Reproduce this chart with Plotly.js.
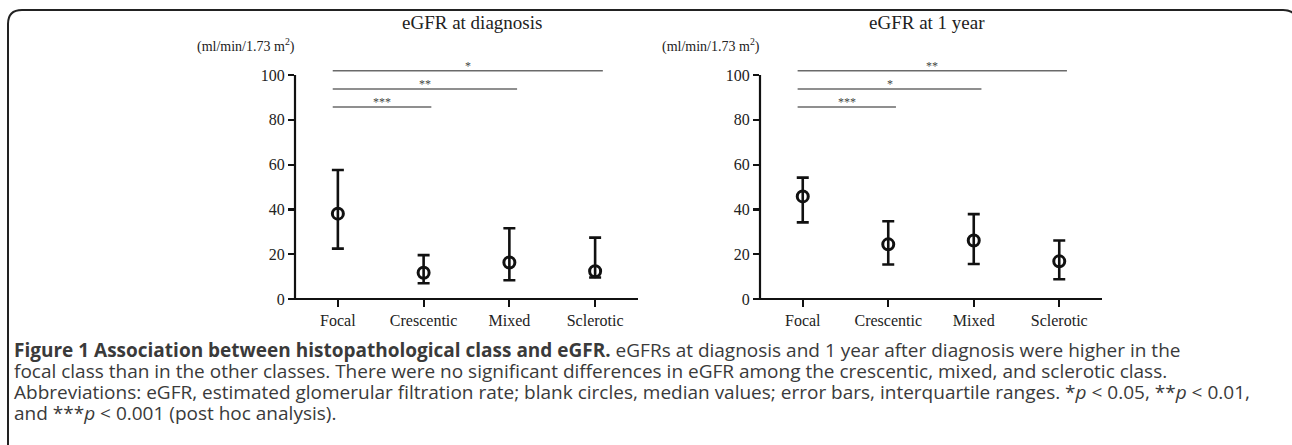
<!DOCTYPE html>
<html>
<head>
<meta charset="utf-8">
<script src="https://cdn.plot.ly/plotly-3.0.1.min.js"></script>
<style>html,body{margin:0;padding:0;background:#fff;}#chart{width:1292px;height:445px;}</style>
</head>
<body>
<div id="chart"></div>
<script>
// ---- data ----
var categories = ['Focal', 'Crescentic', 'Mixed', 'Sclerotic'];
var diagMedian = [38.1, 11.7, 16.3, 12.4];
var diagQ1     = [22.5, 7.0, 8.4, 9.6];
var diagQ3     = [57.6, 19.6, 31.6, 27.4];
var yearMedian = [45.8, 24.4, 26.1, 16.8];
var yearQ1     = [34.2, 15.4, 15.6, 8.8];
var yearQ3     = [54.2, 34.7, 37.9, 26.1];
var compTargets = ['Crescentic', 'Mixed', 'Sclerotic'];
var compLevels  = [85.7, 93.8, 101.9];
var diagStars   = ['***', '**', '*'];
var yearStars   = ['***', '*', '**'];
var yTicks = [0, 20, 40, 60, 80, 100];
var panelTitles = ['eGFR at diagnosis', 'eGFR at 1 year'];
var unitLabel = '(ml/min/1.73 m<sup>2</sup>)';
var captionLines = [
  '<b>Figure 1 Association between histopathological class and eGFR.</b> eGFRs at diagnosis and 1 year after diagnosis were higher in the',
  'focal class than in the other classes. There were no significant differences in eGFR among the crescentic, mixed, and sclerotic class.',
  'Abbreviations: eGFR, estimated glomerular filtration rate; blank circles, median values; error bars, interquartile ranges. *<i>p</i> < 0.05, **<i>p</i> < 0.01,',
  'and ***<i>p</i> < 0.001 (post hoc analysis).'
];

// ---- helpers ----
var W = 1292, H = 445;
function px(x) { return x / W; }
function py(y) { return 1 - y / H; }
var serif = 'Liberation Serif, Times New Roman, serif';
var sans = 'Open Sans, Noto Sans, sans-serif';

function sub(arr, med) { return arr.map(function (v, i) { return v - med[i]; }); }
function subR(med, arr) { return med.map(function (v, i) { return v - arr[i]; }); }

function makeTrace(med, q1, q3, xa, ya) {
  return {
    type: 'scatter', mode: 'markers', x: categories, y: med, xaxis: xa, yaxis: ya,
    marker: { symbol: 'circle-open', size: 11, color: '#111', line: { width: 3, color: '#111' } },
    error_y: { type: 'data', symmetric: false, array: sub(q3, med), arrayminus: subR(med, q1),
               color: '#111', thickness: 2.6, width: 6 },
    cliponaxis: false, showlegend: false, hoverinfo: 'skip'
  };
}

var data = [
  makeTrace(diagMedian, diagQ1, diagQ3, 'x', 'y'),
  makeTrace(yearMedian, yearQ1, yearQ3, 'x2', 'y2')
];

var shapes = [];
var annotations = [];

function addPanel(xa, ya, stars, titleX, unitX, title) {
  shapes.push({ type: 'line', xref: xa + ' domain', yref: ya + ' domain', x0: -0.018, x1: 1, y0: 0, y1: 0,
                line: { color: '#111', width: 2.2 } });
  shapes.push({ type: 'line', xref: xa + ' domain', yref: ya, x0: 0, x1: 0, y0: 0, y1: 100,
                line: { color: '#111', width: 2.2 } });
  compTargets.forEach(function (t, i) {
    var idx = categories.indexOf(t);
    shapes.push({ type: 'line', xref: xa, yref: ya, x0: -0.06, x1: idx + 0.09, y0: compLevels[i], y1: compLevels[i],
                  line: { color: '#6a6a6a', width: 1.5 } });
    annotations.push({ xref: xa, yref: ya, x: (idx + 0.03) / 2, y: compLevels[i], text: stars[i],
                       showarrow: false, yanchor: 'bottom', yshift: -4,
                       font: { family: serif, size: 12, color: '#444' } });
  });
  annotations.push({ xref: 'paper', yref: 'paper', x: px(titleX), y: py(23), text: title, showarrow: false,
                     xanchor: 'center', yanchor: 'middle', font: { family: serif, size: 19, color: '#222' } });
  annotations.push({ xref: 'paper', yref: 'paper', x: px(unitX), y: py(45), text: unitLabel, showarrow: false,
                     xanchor: 'center', yanchor: 'middle', font: { family: serif, size: 14, color: '#222' } });
}
addPanel('x', 'y', diagStars, 472, 246, panelTitles[0]);
addPanel('x2', 'y2', yearStars, 927, 711, panelTitles[1]);

var capY = [350, 371, 392, 413];
captionLines.forEach(function (t, i) {
  annotations.push({ xref: 'paper', yref: 'paper', x: px(12), y: py(capY[i]), text: t, showarrow: false,
                     xanchor: 'left', yanchor: 'middle', align: 'left',
                     font: { family: sans, size: 19, color: '#3a3a3a' } });
});

// frame with rounded corners
(function () {
  var l = 8, t = 10, r = 1297, b = 470, rad = 14;
  var p = 'M ' + px(l) + ' ' + py(b) +
    ' L ' + px(l) + ' ' + py(t + rad) +
    ' Q ' + px(l) + ' ' + py(t) + ' ' + px(l + rad) + ' ' + py(t) +
    ' L ' + px(r - rad) + ' ' + py(t) +
    ' Q ' + px(r) + ' ' + py(t) + ' ' + px(r) + ' ' + py(t + rad) +
    ' L ' + px(r) + ' ' + py(b);
  shapes.push({ type: 'path', xref: 'paper', yref: 'paper', path: p, line: { color: '#222', width: 2 } });
})();

var yDom = [py(299), py(299 - 2.24 * 105)];
function xAxis(dom, anchor) {
  return { domain: dom, anchor: anchor, type: 'category', range: [-0.5, 3.5], showline: false, showgrid: false,
           zeroline: false, ticks: 'outside', ticklen: 7, tickwidth: 2.2, tickcolor: '#111',
           tickfont: { family: serif, size: 16, color: '#222' }, fixedrange: true };
}
function yAxis(dom, anchor) {
  return { domain: dom, anchor: anchor, range: [0, 105], tickvals: yTicks, showline: false, showgrid: false,
           zeroline: false, ticks: 'outside', ticklen: 6, tickwidth: 2.2, tickcolor: '#111',
           tickfont: { family: serif, size: 16, color: '#222' }, fixedrange: true };
}

var layout = {
  width: W, height: H, margin: { l: 0, r: 0, t: 0, b: 0 },
  paper_bgcolor: '#fff', plot_bgcolor: 'rgba(0,0,0,0)', showlegend: false,
  xaxis: xAxis([px(295), px(638)], 'y'),
  yaxis: yAxis(yDom, 'x'),
  xaxis2: xAxis([px(760), px(1102)], 'y2'),
  yaxis2: yAxis(yDom, 'x2'),
  shapes: shapes, annotations: annotations
};

Plotly.newPlot('chart', data, layout, { staticPlot: true, displayModeBar: false });
</script>
</body>
</html>
